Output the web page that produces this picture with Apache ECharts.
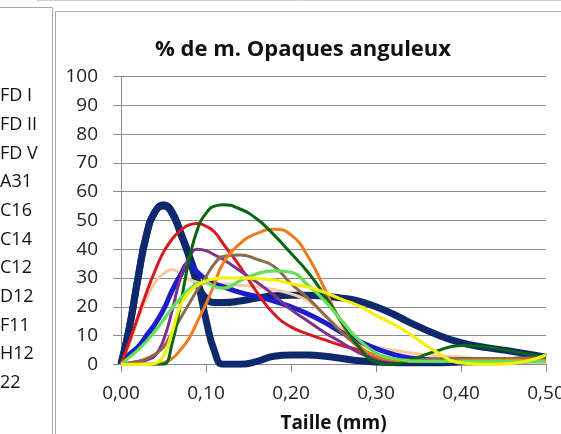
<!DOCTYPE html>
<html>
<head>
<meta charset="utf-8">
<script src="https://cdn.jsdelivr.net/npm/echarts@6/dist/echarts.min.js"></script>
<style>
html,body{margin:0;padding:0;background:#fff;}
#c{width:561px;height:434px;}
</style>
</head>
<body>
<div id="c"></div>
<script>
// Taille (mm) sample positions
var sizes = [0, 0.01, 0.02, 0.03, 0.04, 0.05, 0.06, 0.07, 0.08, 0.09, 0.1, 0.11, 0.12, 0.14, 0.16, 0.18, 0.2, 0.22, 0.24, 0.26, 0.28, 0.3, 0.32, 0.34, 0.37, 0.4, 0.43, 0.46, 0.5];

var seriesNames = ['FD I', 'FD II', 'FD V', 'A31', 'C16', 'C14', 'C12', 'D12', 'F11', 'H12', '22'];

var fdI  = [0, 13, 30, 45, 53, 55.5, 53, 46, 38, 29, 15.5, 4.5, 0, 0, 1, 2.8, 3.2, 3.2, 2.8, 2, 1.2, 0.8, 0.6, 0.5, 0.5, 0.8, 1, 1.3, 2];
var fdII = [0, 13, 30, 45, 53, 55, 52.5, 45.5, 37.5, 28, 23, 21.5, 21.5, 22, 23, 23.8, 24, 24, 23.6, 23, 22, 20, 17.5, 14.5, 10.5, 7.5, 5.8, 4.5, 2.5];
var fdV  = [0, 3.5, 6, 10, 14, 19, 25.5, 31, 35, 32, 29.5, 28, 27, 25, 23.5, 22, 20, 17.5, 14.5, 11, 8, 5.5, 3.5, 2.2, 1.5, 1.3, 1.2, 1.2, 1.2];
var a31  = [0, 8, 16.5, 25, 32.5, 39, 43.5, 46.5, 48.5, 49, 48, 46, 42, 34, 25, 17.5, 13, 10.5, 8.5, 6.5, 5, 3, 1.8, 1.2, 1, 1, 1, 1, 1];
var c16  = [0, 0, 0, 0, 0, 0, 7, 21, 36, 47, 52.5, 55, 55.5, 54, 50.5, 45, 38.6, 32, 23.8, 14.5, 6, 0.8, 0, 1.5, 4.5, 6.5, 6, 4.5, 2.5];
var c14  = [0, 0.5, 1, 1.5, 3, 8.5, 18.5, 30, 37, 40, 39.5, 38, 36.5, 32.5, 28.5, 24, 19, 15, 11, 7.5, 4, 2, 1.2, 1, 1, 1, 1, 1, 1];
var c12  = [0, 0, 0, 0, 0, 0.5, 2, 5, 9, 15, 21, 28, 35, 42, 45.5, 47, 45, 37.5, 26, 14, 6.5, 3, 1.5, 1, 1, 1.2, 1.4, 1.5, 1.5];
var d12  = [0, 0.5, 1, 2, 3.5, 6, 11, 16, 21, 26, 30.5, 35, 37.5, 38, 36.5, 34, 28, 23, 17, 11, 6, 2.5, 1.5, 1.5, 1.8, 2, 2, 2, 2.5];
var f11  = [0, 7, 15.5, 23, 28.5, 31.5, 33, 31.5, 29.5, 28.5, 28, 28, 28, 27.5, 27, 26, 24.5, 22, 17, 12, 8, 6, 5, 4, 3, 2.5, 2, 2, 2];
var h12  = [0, 2.5, 5, 8, 11.5, 15.5, 19.5, 23, 26, 28, 28.5, 27, 26.5, 29, 31.5, 32.5, 32, 27.5, 22, 15, 8.5, 4, 2, 1.2, 1, 1, 1, 1, 1];
var s22  = [0, 0, 0, 0, 0.3, 3, 11, 20.5, 25, 27.5, 29, 29.8, 30, 30, 29.8, 29.3, 28, 26.8, 25, 22.5, 20.3, 17, 14, 10.5, 4.5, 0.5, 0, 0.3, 3.2];

var yTicks = [0, 10, 20, 30, 40, 50, 60, 70, 80, 90, 100];
var xTicks = [0, 0.1, 0.2, 0.3, 0.4, 0.5];

var values = [fdI, fdII, fdV, a31, c16, c14, c12, d12, f11, h12, s22];
var colors = ['#0f2a6c', '#0f2a6c', '#1c1cc8', '#d8191e', '#0a660f', '#80308e', '#f07a1e', '#8c6a48', '#f7c9a2', '#62e05a', '#f2f00c'];
var widths = [7, 7, 5, 3, 3, 3, 3, 3, 3, 3.2, 3.2];
// drawing order (bottom to top)
var drawOrder = [0, 1, 8, 2, 3, 5, 7, 6, 4, 9, 10];

var series = drawOrder.map(function (i) {
  return {
    name: seriesNames[i],
    type: 'line',
    smooth: 0.5,
    showSymbol: false,
    symbol: 'none',
    data: sizes.map(function (s, k) { return [s, values[i][k]]; }),
    lineStyle: { color: colors[i], width: widths[i] },
    itemStyle: { color: colors[i] },
    z: 2 + drawOrder.indexOf(i)
  };
});

var chart = echarts.init(document.getElementById('c'), null, { renderer: 'canvas' });
var font = '"Open Sans", "Liberation Sans", sans-serif';
chart.setOption({
  animation: false,
  backgroundColor: '#ffffff',
  textStyle: { fontFamily: font },
  title: {
    text: '% de m. Opaques anguleux',
    left: 298,
    textAlign: 'center',
    top: 34,
    textStyle: { fontSize: 22, fontWeight: 'bold', color: '#111', fontFamily: font }
  },
  legend: {
    data: seriesNames,
    orient: 'vertical',
    left: -35,
    top: 86,
    padding: 0,
    itemWidth: 30,
    itemHeight: 12,
    itemGap: 8.7,
    icon: 'rect',
    textStyle: { fontSize: 18, color: '#111', lineHeight: 20, fontFamily: font }
  },
  grid: { left: 121, right: 15, top: 76.7, bottom: 69.7, containLabel: false, outerBoundsMode: 'none' },
  xAxis: {
    type: 'value',
    min: 0, max: 0.5, interval: 0.1,
    name: 'Taille (mm)',
    nameLocation: 'middle',
    nameGap: 50,
    nameTextStyle: { fontSize: 19, fontWeight: 'bold', color: '#111', fontFamily: font },
    axisLine: { show: true, lineStyle: { color: '#8c8c8c', width: 1 } },
    axisTick: { show: true, length: 8, lineStyle: { color: '#8c8c8c' } },
    splitLine: { show: false },
    axisLabel: {
      fontSize: 19, color: '#222', margin: 20, fontFamily: font,
      formatter: function (v) { return v.toFixed(2).replace('.', ','); }
    }
  },
  yAxis: {
    type: 'value',
    min: 0, max: 100, interval: 10,
    axisLine: { show: true, lineStyle: { color: '#8c8c8c', width: 1 } },
    axisTick: { show: true, length: 8, lineStyle: { color: '#8c8c8c' } },
    splitLine: { show: true, lineStyle: { color: '#8c8c8c', width: 1 } },
    axisLabel: { fontSize: 19, color: '#222', margin: 23, fontFamily: font }
  },
  graphic: [
    { type: 'polyline', shape: { points: [[0, 7.5], [52.5, 7.5], [52.5, 434]] }, style: { fill: null, stroke: '#a8a8a8', lineWidth: 1 }, z: -1, silent: true },
    { type: 'polyline', shape: { points: [[55.5, 434], [55.5, 11.5], [561, 11.5]] }, style: { fill: null, stroke: '#a8a8a8', lineWidth: 1 }, z: -1, silent: true },
    { type: 'polyline', shape: { points: [[37.5, 2], [37.5, 0.5], [561, 0.5]] }, style: { fill: null, stroke: '#d0d0d0', lineWidth: 1 }, z: -1, silent: true }
  ],
  series: series
});
</script>
</body>
</html>
